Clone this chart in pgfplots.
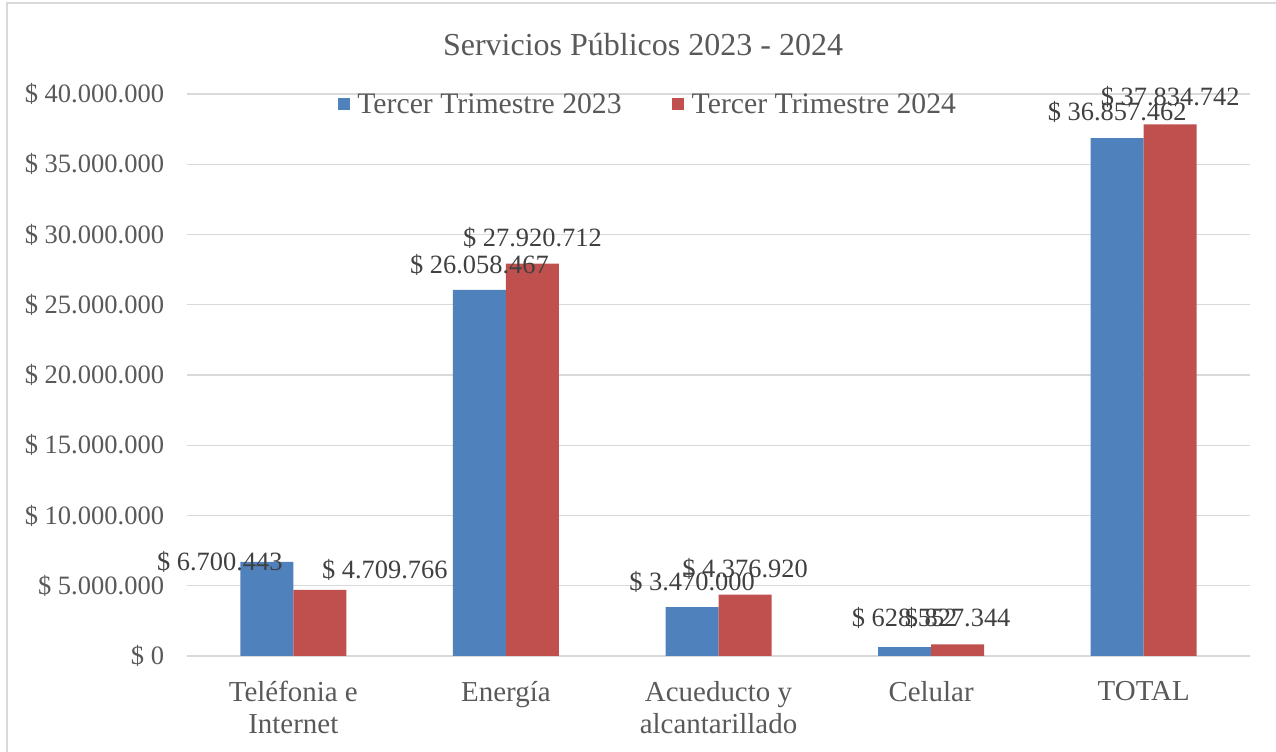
\documentclass[border=0pt]{standalone}
\usepackage{pgfplots}
\pgfplotsset{compat=1.18}
\usepackage{pgfplotstable}
\usepackage{fontspec}
\setmainfont{Liberation Serif}
\definecolor{cblue}{HTML}{4F81BD}
\definecolor{cred}{HTML}{C0504D}
\definecolor{ctext}{HTML}{595959}
\definecolor{clab}{HTML}{404040}
\definecolor{cgrid}{HTML}{D9D9D9}

\pgfplotstableread{
x y dx dy lab
0 6700443 -47 0 6.700.443
1 26058467 0 25 26.058.467
2 3470000 0 25 3.470.000
3 628552 0 29 628.552
4 36857462 0 26 36.857.462
}\dataA
\pgfplotstableread{
x y dx dy lab
0 4709766 65 20 4.709.766
1 27920712 0 26 27.920.712
2 4376920 0 26 4.376.920
3 827344 0 26 827.344
4 37834742 0 27 37.834.742
}\dataB

\begin{document}
\begin{tikzpicture}
\useasboundingbox (0,0) rectangle (957pt,564pt);
\draw[cgrid, line width=1pt] (7*0.75pt,-10pt) rectangle (1300*0.75pt,749*0.75pt);
\node[text=ctext, font=\fontsize{24}{28}\selectfont] at (643*0.75pt,707*0.75pt) {Servicios Públicos 2023 - 2024};
\begin{axis}[
  at={(187*0.75pt,96*0.75pt)}, anchor=south west,
  scale only axis,
  width=797.25pt, height=421.5pt,
  xmin=-0.5, xmax=4.5,
  ymin=0, ymax=40000000,
  ybar=0pt, bar width=39.75pt,
  axis line style={draw=none},
  major tick style={draw=none},
  ymajorgrids, grid style={cgrid, line width=0.9pt},
  ytick={0,5000000,10000000,15000000,20000000,25000000,30000000,35000000,40000000},
  yticklabels={\$ 0,\$ 5.000.000,\$ 10.000.000,\$ 15.000.000,\$ 20.000.000,\$ 25.000.000,\$ 30.000.000,\$ 35.000.000,\$ 40.000.000},
  scaled y ticks=false,
  yticklabel style={anchor=east, inner sep=0pt, xshift=-17pt, text=ctext, font=\fontsize{19.9}{23}\selectfont},
  xtick={0,1,2,3,4},
  xticklabels={Teléfonia e\\Internet, Energía, Acueducto y\\alcantarillado, Celular, TOTAL},
  xticklabel style={align=center, anchor=north, inner sep=0pt, yshift=-14.5pt, text=ctext, font=\fontsize{21.7}{23.8}\selectfont},
  clip=false,
  point meta=explicit symbolic,
  visualization depends on={\thisrow{dx} \as \ldx},
  visualization depends on={\thisrow{dy} \as \ldy},
  nodes near coords={\$ \pgfplotspointmeta},
  nodes near coords style={anchor=center, inner sep=0pt, text=clab, font=\fontsize{19.8}{22}\selectfont, xshift=\ldx*0.75pt, yshift=\ldy*0.75pt},
  legend columns=2,
  legend style={at={(0.434,0.982)}, anchor=center, draw=none, fill=none, text=ctext, font=\fontsize{22.3}{25}\selectfont,
    /tikz/every odd column/.append style={column sep=3.5pt},
    /tikz/every even column/.append style={column sep=36pt}},
  legend image code/.code={\fill[#1] (0pt,-4.5pt) rectangle (9pt,4.5pt);},
]
\addplot[fill=cblue, draw=none] table[x=x, y=y, meta=lab] {\dataA};
\addplot[fill=cred, draw=none] table[x=x, y=y, meta=lab] {\dataB};
\legend{Tercer Trimestre 2023, Tercer Trimestre 2024}
\end{axis}
\end{tikzpicture}
\end{document}
